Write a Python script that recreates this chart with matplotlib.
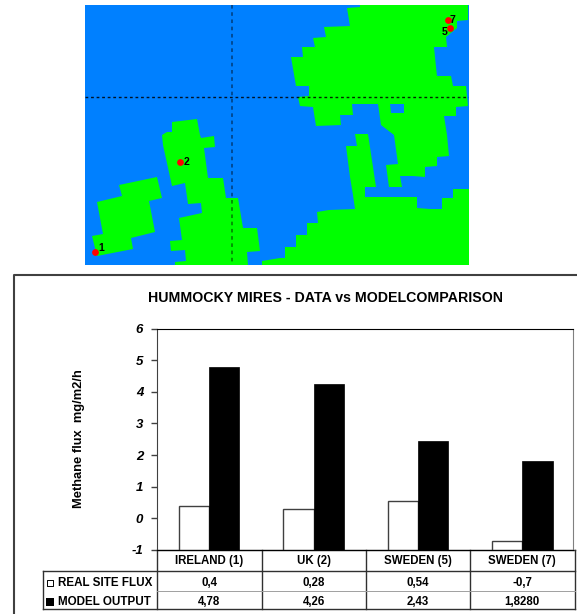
#!/usr/bin/env python3
import matplotlib
matplotlib.use('Agg')
import matplotlib.pyplot as plt
import numpy as np

plt.rcParams['font.family'] = ['Liberation Sans', 'DejaVu Sans']

W, H = 577, 614

# map shapes
north_land = [(360,5),(468,5),(468,20),(457,21),(457,28),(446,37),(447,47),(434,47),(436,67),(437,76),
              (451,76),(453,86),(466,86),(468,106),(456,107),(456,116),(444,116),(447,135),(449,156),
              (437,157),(437,166),(425,167),(425,177),(413,176),(400,176),(402,187),(389,187),(386,165),
              (398,164),(394,135),(381,125),(378,104),(352,104),(353,115),(340,115),(341,125),(316,126),
              (313,107),(300,106),(298,97),(309,96),(309,86),(296,86),(291,57),(303,57),(302,47),(315,47),
              (313,38),(326,37),(324,27),(350,26),(347,8),(360,7)]
north_hole = [(390,104),(404,104),(404,113),(391,113)]
south_land = [(355,134),(368,134),(376,187),(365,187),(365,197),(417,197),(417,208),(430,209),(442,209),
              (442,198),(453,198),(453,189),(469,189),(469,265),(262,265),(262,261),(280,258),(285,258),
              (285,247),(296,247),(296,235),(307,235),(307,223),(318,223),(317,212),(329,210),(355,209),
              (353,195),(350,177),(346,146),(357,146)]
uk_land = [(172,122),(197,119),(200,135),(201,138),(214,136),(215,147),(204,148),(208,178),(223,178),
           (226,198),(238,198),(243,228),(257,228),(260,251),(247,252),(248,265),(175,265),(175,262),
           (186,261),(185,250),(171,251),(170,241),(182,240),(179,218),(202,213),(201,203),(188,204),
           (185,183),(172,186),(163,145),(162,135),(167,132),(172,132)]
ireland_land = [(119,185),(157,177),(162,198),(149,201),(155,232),(131,238),(133,249),(97,256),(92,236),
                (103,234),(97,202),(122,196)]

site_names = ['1', '2', '5', '7']
site_x = [95, 179.5, 450.3, 447.5]
site_y = [251.5, 162, 28.3, 20.3]
label_x = [101, 186, 444.3, 452]
label_y = [248, 162, 32, 19.7]

# chart data
categories = ['IRELAND (1)', 'UK (2)', 'SWEDEN (5)', 'SWEDEN (7)']
real_flux = [0.4, 0.28, 0.54, -0.7]
model_output = [4.78, 4.26, 2.43, 1.828]
real_labels = ['0,4', '0,28', '0,54', '-0,7']
model_labels = ['4,78', '4,26', '2,43', '1,8280']
yticks = [-1, 0, 1, 2, 3, 4, 5, 6]


def px_axes(fig, x0, y0, x1, y1):
    return fig.add_axes([x0/W, 1-y1/H, (x1-x0)/W, (y1-y0)/H])


fig = plt.figure(figsize=(W/100, H/100), dpi=100)

# background layer in pixel coords, frame + table lines
bg = fig.add_axes([0, 0, 1, 1])
bg.set_xlim(0, W)
bg.set_ylim(H, 0)
bg.axis('off')
frame = '#404040'
bg.plot([13.7, 13.7, W], [H, 275, 275], color=frame, lw=1.5)

# map
m = px_axes(fig, 85, 5, 469, 265)
m.set_xlim(85, 469)
m.set_ylim(265, 5)
m.set_facecolor('#0080FF')
m.set_xticks([])
m.set_yticks([])
for s in m.spines.values():
    s.set_visible(False)
for shape in [north_land, south_land, uk_land, ireland_land]:
    m.fill(*zip(*shape), color='#00FF00', lw=0)
m.fill(*zip(*north_hole), color='#0080FF', lw=0)
m.plot([85, 469], [97, 97], color='black', lw=1, ls=(0, (2, 2)), alpha=0.85)
m.plot([232, 232], [5, 265], color='black', lw=1.3, ls=(0, (2, 2)), alpha=0.45)
m.scatter(site_x, site_y, s=24, color='#FF0000', marker='o', lw=0, zorder=4)
for n, lx, ly in zip(site_names, label_x, label_y):
    m.text(lx, ly, n, fontsize=7.5, fontweight='bold', ha='center', va='center', zorder=5)

# bars
ax = px_axes(fig, 157, 328.5, 573, 550)
x = (np.arange(len(categories)) + 0.5) * 104.4 / 104.0
bw = 0.29
real = np.array(real_flux)
model = np.array(model_output)
ax.bar(x-bw/2, real+1, bw, bottom=-1, color='white', edgecolor='#404040', lw=1)
ax.bar(x+bw/2, model+1, bw, bottom=-1, color='black', edgecolor='black', lw=0.5)
ax.set_xlim(0, 4)
ax.set_ylim(-1, 6)
ax.set_xticks([])
ax.set_yticks(yticks)
ax.set_yticklabels(yticks, fontsize=9.5, fontweight='bold', fontstyle='italic')
ax.tick_params(axis='y', length=4, width=1, color='#404040', pad=6)
ax.patch.set_alpha(0)
ax.spines['right'].set_color('#808080')
ax.spines['top'].set_color('black')
ax.spines['left'].set_color('#404040')
ax.spines['bottom'].set_color('black')

bg.text(325.5, 298, 'HUMMOCKY MIRES - DATA vs MODELCOMPARISON', fontsize=10.2, fontweight='bold',
        ha='center', va='center')
bg.text(79, 439, 'Methane flux  mg/m2/h', fontsize=9.3, fontweight='bold', rotation=90,
        ha='center', va='center')

# table under the bars
col_x = [157, 262, 366, 470, 574.5]
line = '#303030'
for cx in col_x:
    bg.plot([cx, cx], [550, 609], color=line, lw=1)
bg.plot([157, 574.5], [550, 550], color=line, lw=1)
bg.plot([43, 574.5], [571, 571], color=line, lw=1)
bg.plot([157, 574.5], [590.5, 590.5], color='#a0a0a0', lw=0.7)
bg.plot([43, 574.5], [609, 609], color=line, lw=1)
bg.plot([43, 43], [571, 609], color=line, lw=1)

for i, c in enumerate(categories):
    cx = (col_x[i] + col_x[i+1]) / 2
    bg.text(cx, 561, c, fontsize=8.3, fontweight='bold', ha='center', va='center')
    bg.text(cx, 583, real_labels[i], fontsize=8.3, fontweight='bold', ha='center', va='center')
    bg.text(cx, 602, model_labels[i], fontsize=8.3, fontweight='bold', ha='center', va='center')

bg.scatter([50], [583], s=22, marker='s', facecolor='white', edgecolor='black', lw=0.7)
bg.scatter([50], [602], s=30, marker='s', color='black', lw=0)
bg.text(58, 583, 'REAL SITE FLUX', fontsize=8.4, fontweight='bold', ha='left', va='center')
bg.text(58, 602, 'MODEL OUTPUT', fontsize=8.4, fontweight='bold', ha='left', va='center')

fig.savefig('out.png', dpi=100)
